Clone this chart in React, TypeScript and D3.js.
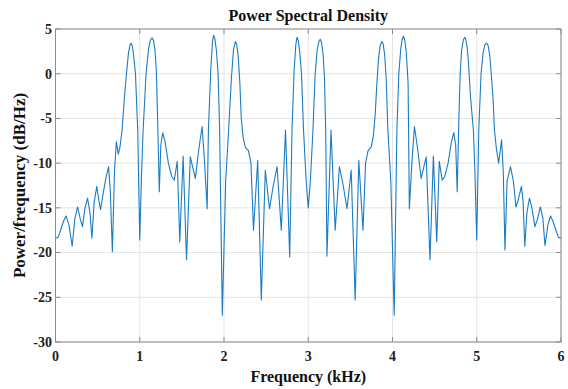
import React from "react";
import * as d3 from "d3";

const freqKHz: number[] = [
  0.000, 0.030, 0.060, 0.095, 0.125, 0.160, 0.198, 0.230, 0.262, 0.295,
  0.320, 0.350, 0.380, 0.410, 0.432, 0.460, 0.490, 0.515, 0.535, 0.565,
  0.600, 0.630, 0.650, 0.675, 0.700, 0.722, 0.745, 0.765, 0.790, 0.815,
  0.842, 0.866, 0.884, 0.898, 0.912, 0.928, 0.949, 0.976, 1.000, 1.022,
  1.040, 1.075, 1.105, 1.128, 1.147, 1.164, 1.180, 1.197, 1.212, 1.232,
  1.250, 1.272, 1.300, 1.340, 1.380, 1.410, 1.445, 1.475, 1.515, 1.555,
  1.600, 1.630, 1.660, 1.700, 1.740, 1.770, 1.800, 1.815, 1.842, 1.862,
  1.877, 1.892, 1.910, 1.930, 1.948, 1.980, 2.020, 2.055, 2.088, 2.112,
  2.134, 2.150, 2.168, 2.188, 2.205, 2.228, 2.253, 2.290, 2.320, 2.350,
  2.400, 2.443, 2.490, 2.540, 2.585, 2.630, 2.680, 2.730, 2.780, 2.807,
  2.832, 2.852, 2.866, 2.882, 2.900, 2.920, 2.944, 2.975, 3.000, 3.025,
  3.056, 3.082, 3.105, 3.126, 3.142, 3.158, 3.176, 3.193, 3.207, 3.222,
  3.270, 3.320, 3.370, 3.415, 3.460, 3.510, 3.557, 3.600, 3.650, 3.680,
  3.710, 3.747, 3.772, 3.795, 3.815, 3.835, 3.855, 3.874, 3.890, 3.908,
  3.925, 3.945, 3.980, 4.020, 4.052, 4.075, 4.098, 4.116, 4.130, 4.145,
  4.163, 4.185, 4.200, 4.230, 4.260, 4.300, 4.340, 4.370, 4.400, 4.445,
  4.485, 4.525, 4.555, 4.590, 4.620, 4.660, 4.700, 4.728, 4.750, 4.768,
  4.788, 4.803, 4.820, 4.842, 4.858, 4.870, 4.886, 4.902, 4.925, 4.960,
  4.978, 5.000, 5.024, 5.051, 5.075, 5.095, 5.108, 5.120, 5.136, 5.155,
  5.172, 5.195, 5.210, 5.235, 5.260, 5.295, 5.315, 5.335, 5.360, 5.400,
  5.435, 5.465, 5.490, 5.530, 5.550, 5.570, 5.595, 5.625, 5.655, 5.690,
  5.720, 5.755, 5.785, 5.810, 5.845, 5.875, 5.905, 5.940, 5.970, 6.000,
];

const psdDb: number[] = [
  -18.4, -18.3, -17.5, -16.5, -15.9, -16.9, -19.3, -16.2, -14.9, -16.3,
  -17.1, -15.0, -13.9, -15.6, -18.4, -14.3, -12.6, -14.2, -15.2, -13.4,
  -11.6, -10.4, -13.0, -19.9, -11.0, -7.6, -9.0, -8.2, -6.3, -3.0,
  0.0, 2.3, 3.2, 3.4, 3.1, 2.0, 0.0, -6.3, -18.6, -11.0,
  -6.3, 0.0, 2.8, 3.8, 4.0, 3.7, 2.7, 0.3, -5.0, -13.2,
  -8.0, -6.6, -7.6, -10.0, -11.5, -11.9, -9.8, -18.8, -9.2, -20.8,
  -9.3, -10.5, -11.7, -8.5, -5.9, -10.0, -15.1, -6.3, 0.3, 3.5,
  4.3, 3.9, 2.6, 0.0, -6.3, -27.0, -12.0, -6.3, -0.5, 2.6,
  3.6, 3.3, 2.0, -1.0, -5.0, -7.2, -8.2, -8.6, -10.0, -17.5,
  -9.7, -25.3, -10.8, -15.1, -12.5, -10.4, -17.5, -6.3, -20.5, -6.3,
  0.3, 3.2, 4.07, 3.7, 2.3, 0.0, -6.3, -12.0, -15.0, -12.0,
  -6.3, 0.0, 2.6, 3.6, 3.85, 3.5, 2.2, -0.5, -6.3, -20.4,
  -6.3, -17.5, -10.4, -12.5, -15.1, -10.8, -25.3, -9.7, -17.5, -10.0,
  -8.6, -8.2, -7.0, -4.5, -1.0, 1.8, 3.2, 3.6, 3.3, 2.0,
  -0.5, -6.3, -12.0, -27.0, -6.3, 0.0, 2.8, 3.9, 4.2, 3.8,
  2.4, -1.0, -15.1, -10.0, -5.9, -8.5, -11.7, -10.5, -9.3, -20.8,
  -9.2, -18.8, -9.8, -11.9, -11.5, -10.0, -7.6, -6.6, -8.0, -13.2,
  -5.0, 0.0, 2.6, 3.8, 4.07, 3.8, 3.0, 1.2, -2.5, -6.3,
  -11.0, -18.6, -6.3, 0.0, 2.3, 3.2, 3.4, 3.4, 3.1, 2.0,
  0.0, -3.0, -6.3, -8.5, -10.0, -7.4, -11.0, -19.7, -12.0, -10.4,
  -12.0, -14.9, -14.2, -12.6, -14.3, -19.3, -15.6, -13.9, -15.0, -17.1,
  -16.3, -14.9, -16.2, -19.2, -16.9, -15.9, -16.5, -17.5, -18.3, -18.4,
];

const xTicks: number[] = [0, 1, 2, 3, 4, 5, 6];
const yTicks: number[] = [-30, -25, -20, -15, -10, -5, 0, 5];

const titleText = "Power Spectral Density";
const xLabelText = "Frequency (kHz)";
const yLabelText = "Power/frequency (dB/Hz)";

const W = 568;
const H = 389;
const left = 55.5;
const right = 561;
const top = 29;
const bottom = 342;

export default function App() {
  const x = d3.scaleLinear().domain([0, 6]).range([left, right]);
  const y = d3.scaleLinear().domain([-30, 5]).range([bottom, top]);
  const data = freqKHz.map((f, i) => [f, psdDb[i]] as [number, number]);
  const line = d3
    .line<[number, number]>()
    .x((d) => x(d[0]))
    .y((d) => y(d[1]))
    .curve(d3.curveLinear);

  const font = "'Liberation Serif', 'Times New Roman', serif";
  const axisColor = "#8c8c8c";
  const gridColor = "#e4e4e4";
  const tickLen = 5;

  return (
    <div style={{ position: "absolute", left: 0, top: 0 }}>
      <svg width={W} height={H} style={{ display: "block", background: "#fff" }}>
        <rect x={0} y={0} width={W} height={H} fill="#fff" />
        {xTicks.map((t) => (
          <line key={"gx" + t} x1={x(t)} x2={x(t)} y1={top} y2={bottom} stroke={gridColor} strokeWidth={1} />
        ))}
        {yTicks.map((t) => (
          <line key={"gy" + t} x1={left} x2={right} y1={y(t)} y2={y(t)} stroke={gridColor} strokeWidth={1} />
        ))}
        <path d={line(data) || ""} fill="none" stroke="#1a7cc4" strokeWidth={1.1} strokeLinejoin="round" />
        <rect x={left} y={top} width={right - left} height={bottom - top} fill="none" stroke={axisColor} strokeWidth={1} />
        {xTicks.map((t) => (
          <g key={"tx" + t}>
            <line x1={x(t)} x2={x(t)} y1={bottom} y2={bottom - tickLen} stroke={axisColor} />
            <line x1={x(t)} x2={x(t)} y1={top} y2={top + tickLen} stroke={axisColor} />
            <text x={x(t)} y={361} textAnchor="middle" fontFamily={font} fontWeight="bold" fontSize={14} fill="#222">
              {t}
            </text>
          </g>
        ))}
        {yTicks.map((t) => (
          <g key={"ty" + t}>
            <line x1={left} x2={left + tickLen} y1={y(t)} y2={y(t)} stroke={axisColor} />
            <line x1={right} x2={right - tickLen} y1={y(t)} y2={y(t)} stroke={axisColor} />
            <text x={52} y={y(t)} dy="0.35em" textAnchor="end" fontFamily={font} fontWeight="bold" fontSize={14} fill="#222">
              {t}
            </text>
          </g>
        ))}
        <text x={(left + right) / 2} y={21} textAnchor="middle" fontFamily={font} fontWeight="bold" fontSize={16} fill="#111">
          {titleText}
        </text>
        <text x={(left + right) / 2} y={382} textAnchor="middle" fontFamily={font} fontWeight="bold" fontSize={16} fill="#111">
          {xLabelText}
        </text>
        <text
          transform={`translate(25, ${(top + bottom) / 2}) rotate(-90)`}
          textAnchor="middle"
          fontFamily={font}
          fontWeight="bold"
          fontSize={17}
          fill="#111"
        >
          {yLabelText}
        </text>
      </svg>
    </div>
  );
}
